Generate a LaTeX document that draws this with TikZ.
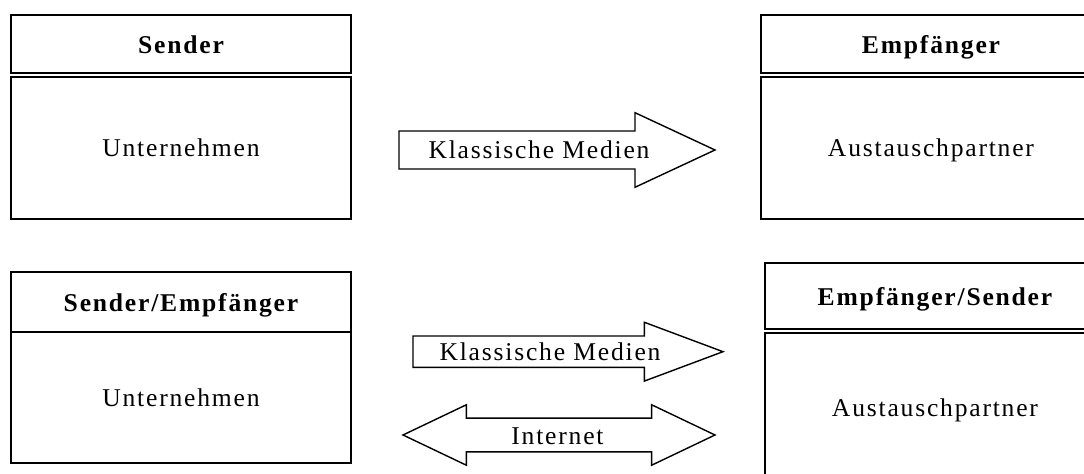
\documentclass[tikz,border=0pt]{standalone}
\usepackage{fontspec}
\setmainfont{Liberation Serif}[LetterSpace=7]
\usetikzlibrary{shapes.arrows,positioning}
\newcommand{\schrift}{\fontsize{12.8}{15}\selectfont}
\tikzstyle{kasten} = [rectangle, draw, line width=1pt, minimum width=170pt,
    inner sep=0pt, outer sep=0pt, text height=2.3ex, text depth=.3ex]
\tikzstyle{kopf} = [kasten, anchor=north west, font=\schrift\bfseries]
\tikzstyle{rumpf} = [kasten, anchor=north west]
\tikzstyle{pfeil} = [draw, line width=.7pt, inner xsep=0pt, outer sep=0pt, single arrow,
    single arrow head indent=0pt]
\tikzstyle{dpfeil} = [draw, line width=.7pt, inner xsep=0pt, outer sep=0pt, double arrow,
    double arrow head indent=0pt]

\begin{document}
\begin{tikzpicture}[x=0.5pt,y=-0.5pt,
                    every node/.style={font=\schrift}]

  \useasboundingbox (0,0) rectangle (1084,474);
  \clip (0,0) rectangle (1084,474);

  % oben: einseitige Kommunikation
  \node[kopf,minimum height=29pt]    (sender) at (11,15) {Sender};
  \node[rumpf,minimum height=71pt]   (unternehmen1) [below=1.8pt of sender.south west,anchor=north west] {Unternehmen};
  \node[kopf,minimum height=29pt]    (empf) at (761,15) {Empfänger};
  \node[rumpf,minimum height=71pt]   (partner1) [below=1.8pt of empf.south west,anchor=north west] {Austauschpartner};

  \node[pfeil,minimum height=158pt,inner ysep=9.15pt,
        single arrow head extend=9.15pt,single arrow tip angle=50,anchor=tail] (medien1) at (399,150) {};
  \node (medien1text) at (539,150) {Klassische Medien};

  % unten: zweiseitige Kommunikation
  \node[kopf,minimum height=30pt]    (senderempf) at (11,272) {Sender/Empfänger};
  \node[rumpf,minimum height=65.5pt] (unternehmen2) [below=0pt of senderempf.south west,anchor=north west] {Unternehmen};
  \node[kopf,minimum height=33pt]    (empfsender) at (765,263) {Empfänger/Sender};
  \node[rumpf,minimum height=75pt]   (partner2) [below=1.8pt of empfsender.south west,anchor=north west] {Austauschpartner};

  \node[pfeil,minimum height=155pt,inner ysep=7.5pt,
        single arrow head extend=6.85pt,single arrow tip angle=41,anchor=tail] (medien2) at (413,351.7) {};
  \node (medien2text) at (550,352) {Klassische Medien};

  \node[dpfeil,minimum height=156pt,inner ysep=8.1pt,
        double arrow head extend=6.65pt,double arrow tip angle=51] (internet) at (559,435) {};
  \node (internettext) at (557.5,436) {Internet};
\end{tikzpicture}
\end{document}
